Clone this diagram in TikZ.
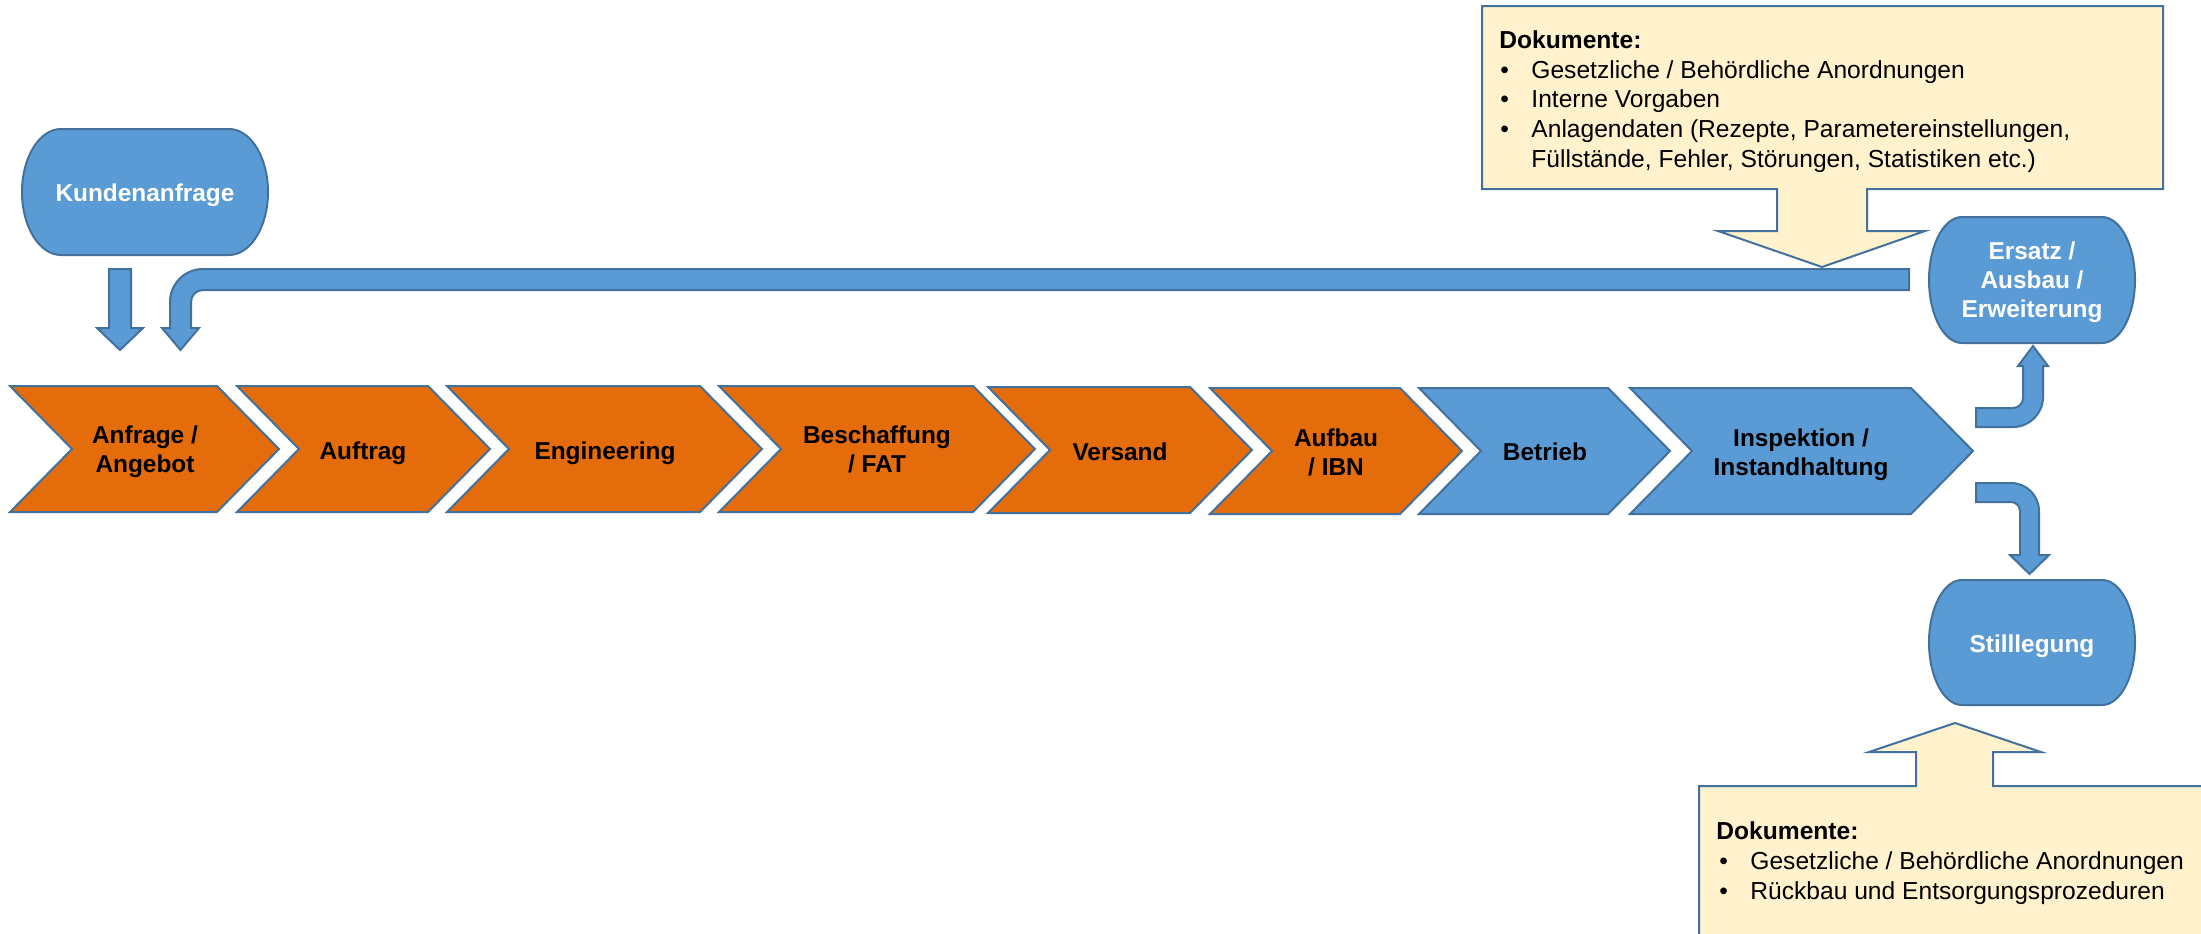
\documentclass[tikz,border=0pt]{standalone}
\usepackage{fontspec}
\setmainfont{Liberation Sans}
\definecolor{cblue}{HTML}{5B9BD5}
\definecolor{cline}{HTML}{41719C}
\definecolor{corange}{HTML}{E46C0A}
\definecolor{ccream}{HTML}{FFF2CC}
\tikzset{
  shp/.style={draw=cline, line width=1pt, line join=miter},
  blueshp/.style={shp, fill=cblue},
  orshp/.style={shp, fill=corange},
  docshp/.style={shp, fill=ccream},
  lbl/.style={inner sep=0pt, anchor=base, font=\fontsize{12.2}{14.5}\selectfont\bfseries},
  wlbl/.style={lbl, text=white},
  doctxt/.style={inner sep=0pt, anchor=base west, font=\fontsize{12.3}{14.8}\selectfont},
  docbold/.style={doctxt, font=\fontsize{12.3}{14.8}\selectfont\bfseries},
}
\newcommand{\chevshape}[5]{%
  \path[#5] (#1,#3) -- (#2,#3) -- ({#2+62},{(#3+#4)/2}) -- (#2,#4) -- (#1,#4) -- ({#1+62},{(#3+#4)/2}) -- cycle;}
\newcommand{\termshape}[5]{%
  \path[blueshp] ({#1+#5},#3) -- ({#2-#5},#3)
    arc[start angle=-90,end angle=90,x radius=#5,y radius={(#4-#3)/2}]
    -- ({#1+#5},#4)
    arc[start angle=90,end angle=270,x radius=#5,y radius={(#4-#3)/2}] -- cycle;}
\begin{document}
\begin{tikzpicture}[x=0.5pt,y=-0.5pt]
\useasboundingbox (0,0) rectangle (2201,933);

% terminators
\termshape{22}{268}{129}{255}{39}
\termshape{1929}{2135}{217}{343}{33}
\termshape{1929}{2135}{580}{705}{33}

% chevrons
\chevshape{10}{217}{386}{512}{orshp}
\chevshape{237}{428}{386}{512}{orshp}
\chevshape{447}{700}{386}{512}{orshp}
\chevshape{719}{973}{386}{512}{orshp}
\chevshape{988}{1190}{387}{513}{orshp}
\chevshape{1210}{1400}{388}{514}{orshp}
\chevshape{1419}{1608}{388}{514}{blueshp}
\chevshape{1630}{1911}{388}{514}{blueshp}

% block arrows
\path[blueshp] (109,269) -- (131,269) -- (131,328) -- (143,328) -- (120,350) -- (97,328) -- (109,328) -- cycle;
\path[blueshp] (1909,269) -- (203,269) arc[start angle=-90,end angle=-180,radius=33]
  -- (170,328) -- (162,328) -- (180.5,350) -- (199,328) -- (191,328) -- (191,302)
  arc[start angle=180,end angle=270,radius=12] -- (1909,290) -- cycle;
\path[blueshp] (1976,408) -- (2013,408) arc[start angle=90,end angle=0,radius=10]
  -- (2023,366) -- (2018,366) -- (2033,346) -- (2048,366) -- (2043,366) -- (2043,397)
  arc[start angle=0,end angle=90,radius=30] -- (1976,427) -- cycle;
\path[blueshp] (1976,483) -- (2011,483) arc[start angle=-90,end angle=0,radius=28]
  -- (2039,555) -- (2049,555) -- (2029.5,574) -- (2010,555) -- (2020,555) -- (2020,511)
  arc[start angle=0,end angle=-90,radius=9] -- (1976,502) -- cycle;

% document callouts
\path[docshp] (1482,6) -- (2163,6) -- (2163,189) -- (1867,189) -- (1867,231) -- (1925,231)
  -- (1822,267) -- (1718,231) -- (1777,231) -- (1777,189) -- (1482,189) -- cycle;
\begin{scope}
\clip (0,0) rectangle (2201,933);
\path[docshp] (1699,786) -- (1916,786) -- (1916,752) -- (1869,752) -- (1955,723) -- (2041,752)
  -- (1993,752) -- (1993,786) -- (2215,786) -- (2215,945) -- (1699,945) -- cycle;
\end{scope}

% labels
\node[wlbl] (kunde) at (145,201) {Kundenanfrage};
\node[wlbl] (ers1) at (2032,259) {Ersatz /};
\node[wlbl] (ers2) at (2032,288) {Ausbau /};
\node[wlbl] (ers3) at (2032,317) {Erweiterung};
\node[wlbl] (still) at (2032,652) {Stilllegung};

\node[lbl] (c1a) at (145,443) {Anfrage /};
\node[lbl] (c1b) at (145,472) {Angebot};
\node[lbl] (c2) at (363,459) {Auftrag};
\node[lbl] (c3) at (605,459) {Engineering};
\node[lbl] (c4a) at (877,443) {Beschaffung};
\node[lbl] (c4b) at (877,472) {/ FAT};
\node[lbl] (c5) at (1120,460) {Versand};
\node[lbl] (c6a) at (1336,446) {Aufbau};
\node[lbl] (c6b) at (1336,475) {/ IBN};
\node[lbl] (c7) at (1545,460) {Betrieb};
\node[lbl] (c8a) at (1801,446) {Inspektion /};
\node[lbl] (c8b) at (1801,475) {Instandhaltung};

% top document text
\node[docbold] (t0) at (1499,48) {Dokumente:};
\node[doctxt] (tb1) at (1500,78) {•};
\node[doctxt] (t1) at (1531,78) {Gesetzliche / Behördliche Anordnungen};
\node[doctxt] (tb2) at (1500,107) {•};
\node[doctxt] (t2) at (1531,107) {Interne Vorgaben};
\node[doctxt] (tb3) at (1500,137) {•};
\node[doctxt] (t3) at (1531,137) {Anlagendaten (Rezepte, Parametereinstellungen,};
\node[doctxt] (t4) at (1531,167) {Füllstände, Fehler, Störungen, Statistiken etc.)};

% bottom document text
\node[docbold] (b0) at (1716,839) {Dokumente:};
\node[doctxt] (bb1) at (1719,869) {•};
\node[doctxt] (b1) at (1750,869) {Gesetzliche / Behördliche Anordnungen};
\node[doctxt] (bb2) at (1719,899) {•};
\node[doctxt] (b2) at (1750,899) {Rückbau und Entsorgungsprozeduren};
\end{tikzpicture}
\end{document}
